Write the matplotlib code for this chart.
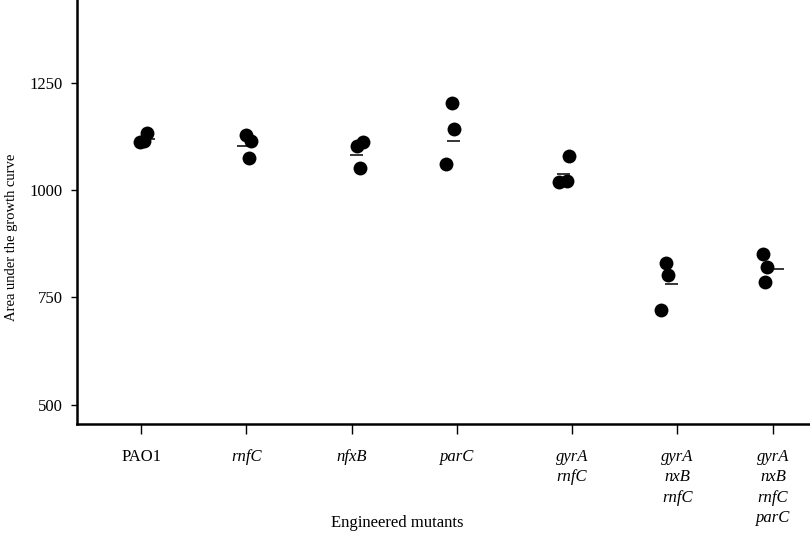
import numpy as np
import matplotlib
matplotlib.use("Agg")
import matplotlib.pyplot as plt

plt.rcParams.update({
    "font.family": ["Liberation Serif", "DejaVu Serif"],
    "font.size": 12,
})

# =========================
# Data
# =========================
strains = ["PAO1", "rnfC", "nfxB", "parC",
           "gyrA\nrnfC", "gyrA\nnxB\nrnfC", "gyrA\nnxB\nrnfC\nparC"]
italic = [False, True, True, True, True, True, True]

auc_pao1 = [1112, 1132, 1114]
auc_rnfc = [1128, 1114, 1074]
auc_nfxb = [1103, 1113, 1051]
auc_parc = [1203, 1143, 1061]
auc_gyra_rnfc = [1079, 1019, 1021]
auc_gyra_nxb_rnfc = [829, 803, 720]
auc_gyra_nxb_rnfc_parc = [852, 820, 787]

# horizontal bars (group means as drawn)
mean_bars = [1118, 1102, 1081, 1115, 1037, 782, 816]

groups = [auc_pao1, auc_rnfc, auc_nfxb, auc_parc,
          auc_gyra_rnfc, auc_gyra_nxb_rnfc, auc_gyra_nxb_rnfc_parc]

# =========================
# Layout (category slots and horizontal jitter, in category units)
# =========================
slots = [0, 1, 2, 3, 4.09, 5.09, 6]
jitter = [[-0.01, 0.054, 0.03],
          [0.0, 0.047, 0.025],
          [0.047, 0.104, 0.08],
          [-0.05, -0.028, -0.107],
          [-0.028, -0.12, -0.05],
          [-0.104, -0.083, -0.155],
          [-0.092, -0.054, -0.076]]
bar_shift = [0.066, -0.028, 0.047, -0.038, -0.076, -0.057, 0.038]
bar_half = 0.062

fig = plt.figure(figsize=(8.1, 5.34), dpi=100)
ax = fig.add_axes([77 / 810, 110 / 534, 1 - 77 / 810, 1 - 110 / 534])

for k, vals in enumerate(groups):
    xs = [slots[k] + j for j in jitter[k]]
    ax.scatter(xs, vals, s=100, color="black", zorder=3, linewidths=0)
    c = slots[k] + bar_shift[k]
    ax.hlines(mean_bars[k], c - bar_half, c + bar_half,
              color="black", linewidth=1.1, zorder=2)

ax.set_xlim(-0.608, 6.351)
ax.set_ylim(455, 1443)
ax.set_yticks([500, 750, 1000, 1250])
ax.set_xticks(slots)
ax.set_xticklabels(strains, linespacing=1.36)
for lab, it in zip(ax.get_xticklabels(), italic):
    if it:
        lab.set_fontstyle("italic")

for side in ["top", "right"]:
    ax.spines[side].set_visible(False)
for side in ["left", "bottom"]:
    ax.spines[side].set_linewidth(1.8)

ax.tick_params(axis="x", length=7, width=1, pad=11)
ax.tick_params(axis="y", length=4.5, width=1, pad=6)

fig.text(397.5 / 810, 1 - 523 / 534, "Engineered mutants",
         ha="center", va="center")
fig.text(12 / 810, 1 - 237 / 534, "Area under the growth curve",
         ha="center", va="center", rotation=90, fontsize=10.5)

fig.savefig("out.png", dpi=100)
